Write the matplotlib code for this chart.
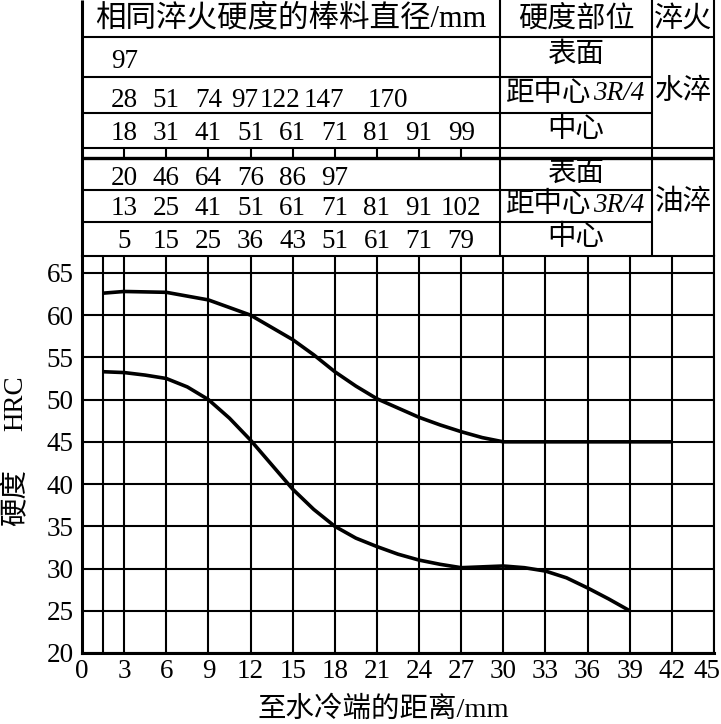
"""Jominy end-quench hardness band with equivalent bar-diameter table."""

import matplotlib

matplotlib.use("Agg")
import matplotlib.pyplot as plt
from matplotlib.transforms import ScaledTranslation

# ---- data -----------------------------------------------------------------
# hardness band: distance from quenched end (mm) vs HRC
UPPER_X = [1.5, 3, 6, 9, 12, 15, 16.5, 18, 19.5, 21, 22.5, 24, 25.5, 27, 28.5,
           30, 33, 36, 39, 42]
UPPER_HRC = [62.6, 62.8, 62.7, 61.8, 60.0, 57.1, 55.3, 53.3, 51.6, 50.1, 49.0,
             47.9, 47.0, 46.2, 45.5, 45.0, 45.0, 45.0, 45.0, 45.0]
LOWER_X = [1.5, 3, 4.5, 6, 7.5, 9, 10.5, 12, 13.5, 15, 16.5, 18, 19.5, 21, 22.5,
           24, 25.5, 27, 28.5, 30, 31.5, 33, 34.5, 36, 37.5, 39]
LOWER_HRC = [53.3, 53.2, 52.9, 52.5, 51.5, 50.0, 47.8, 45.2, 42.3, 39.4, 37.0,
             35.0, 33.6, 32.6, 31.7, 31.0, 30.5, 30.1, 30.2, 30.3, 30.1, 29.7,
             28.9, 27.7, 26.4, 25.0]

X_TICKS = list(range(0, 46, 3))
Y_TICKS = list(range(20, 66, 5))

# bar diameters (mm) giving the same hardness, and the end distance (mm) each sits at
WATER_SURFACE = [97]
WATER_SURFACE_AT = [3]
WATER_3R4 = [28, 51, 74, 97, 122, 147, 170]
WATER_3R4_AT = [3, 6, 9, 11.6, 14.1, 17.2, 21.8]
WATER_CENTER = [18, 31, 41, 51, 61, 71, 81, 91, 99]
WATER_CENTER_AT = [3, 6, 9, 12, 15, 18, 21, 24, 27]
OIL_SURFACE = [20, 46, 64, 76, 86, 97]
OIL_SURFACE_AT = [3, 6, 9, 12, 15, 18]
OIL_3R4 = [13, 25, 41, 51, 61, 71, 81, 91, 102]
OIL_3R4_AT = [3, 6, 9, 12, 15, 18, 21, 24, 27]
OIL_CENTER = [5, 15, 25, 36, 43, 51, 61, 71, 79]
OIL_CENTER_AT = [3, 6, 9, 12, 15, 18, 21, 24, 27]

HEADER_DIAM = "相同淬火硬度的棒料直径/mm"
HEADER_POS = "硬度部位"
HEADER_QUENCH = "淬火"
POS_SURFACE = "表面"
POS_3R4 = "距中心"
POS_CENTER = "中心"
WATER = "水淬"
OIL = "油淬"
X_LABEL = "至水冷端的距离/mm"

# ---- layout (pixels of the 721x724 canvas) --------------------------------
W, H = 721, 724
PLOT_L, PLOT_R, PLOT_T, PLOT_B = 82, 714, 256, 653
COL_POS, COL_QUENCH = 29.75, 40.6  # column edges in mm units of the shared x
LW = 1.5
NUM_SIZE = 19.5
CJK_SIZE = 20.5


def apply_style():
    plt.rcParams.update({
        "font.family": ["Liberation Serif", "Noto Sans CJK SC", "DejaVu Sans"],
        "font.size": NUM_SIZE,
        "axes.linewidth": LW,
        "axes.unicode_minus": False,
    })


def draw_chart(fig, ax):
    ax.plot(UPPER_X, UPPER_HRC, color="black", lw=2.6, solid_capstyle="butt", zorder=3)
    ax.plot(LOWER_X, LOWER_HRC, color="black", lw=2.6, solid_capstyle="butt", zorder=3)
    ax.set_xlim(0, 45)
    ax.set_ylim(20, 67)
    ax.set_xticks(X_TICKS)
    ax.set_xticks([1.5], minor=True)
    ax.set_yticks(Y_TICKS)
    ax.grid(True, which="both", color="black", lw=LW, zorder=1)
    ax.set_axisbelow(True)
    ax.tick_params(which="both", length=0, labelsize=NUM_SIZE)
    ax.tick_params(axis="x", pad=4)
    ax.tick_params(axis="y", pad=6)
    for spine in ax.spines.values():
        spine.set_color("black")
        spine.set_linewidth(LW)
    ax.spines["left"].set_linewidth(2.2)
    ax.spines["bottom"].set_linewidth(2.2)
    # last x label sits inside the canvas edge, as in the print
    last = ax.get_xticklabels()[-1]
    last.set_horizontalalignment("right")
    last.set_transform(last.get_transform()
                       + ScaledTranslation(6 / 100, 0, fig.dpi_scale_trans))


def put_row(ax, values, where, baseline):
    for v, x in zip(values, where):
        ax.text(x, baseline, str(v), ha="center", va="baseline", fontsize=NUM_SIZE)


def put_cjk(ax, x, y, s, size=CJK_SIZE):
    ax.text(x, y, s, ha="center", va="center", fontsize=size)


def put_3r4(ax, y):
    split = 36.3
    ax.text(split, y, POS_3R4, ha="right", va="center", fontsize=CJK_SIZE)
    ax.text(split + 0.1, y, "3R/4", ha="left", va="center", fontsize=NUM_SIZE,
            style="italic")


def draw_table(tb):
    tb.set_xlim(0, 45)
    tb.set_ylim(PLOT_T, 0)
    tb.axis("off")
    kw = dict(color="black", lw=LW, clip_on=False)
    # horizontal rules
    tb.hlines([37, 148], 0, 45, **kw)
    tb.hlines([77, 113, 190, 222], 0, COL_QUENCH, **kw)
    tb.hlines([158], 0, 45, color="black", lw=2.4, clip_on=False)
    # vertical rules
    tb.vlines([0], 0, PLOT_T, color="black", lw=2.2, clip_on=False)
    tb.vlines([COL_POS, COL_QUENCH, 45], 0, PLOT_T, **kw)
    tb.vlines(WATER_CENTER_AT, 148, 158, **kw)

    pos_mid = (COL_POS + COL_QUENCH) / 2
    q_mid = (COL_QUENCH + 45) / 2

    put_cjk(tb, COL_POS / 2, 19, HEADER_DIAM, size=22)
    put_cjk(tb, pos_mid, 19, HEADER_POS, size=21)
    put_cjk(tb, q_mid, 19, HEADER_QUENCH, size=21)

    put_row(tb, WATER_SURFACE, WATER_SURFACE_AT, 68)
    put_row(tb, WATER_3R4, WATER_3R4_AT, 107)
    put_row(tb, WATER_CENTER, WATER_CENTER_AT, 140)
    put_cjk(tb, pos_mid, 55, POS_SURFACE)
    put_3r4(tb, 94)
    put_cjk(tb, pos_mid, 130, POS_CENTER)
    put_cjk(tb, q_mid, 92, WATER)

    put_row(tb, OIL_SURFACE, OIL_SURFACE_AT, 185)
    put_row(tb, OIL_3R4, OIL_3R4_AT, 215)
    put_row(tb, OIL_CENTER, OIL_CENTER_AT, 248)
    put_cjk(tb, pos_mid, 174, POS_SURFACE)
    put_3r4(tb, 205)
    put_cjk(tb, pos_mid, 238, POS_CENTER)
    put_cjk(tb, q_mid, 203, OIL)


def main():
    apply_style()
    fig = plt.figure(figsize=(W / 100, H / 100), dpi=100)
    ax = fig.add_axes([PLOT_L / W, 1 - PLOT_B / H,
                       (PLOT_R - PLOT_L) / W, (PLOT_B - PLOT_T) / H])
    tb = fig.add_axes([PLOT_L / W, 1 - PLOT_T / H,
                       (PLOT_R - PLOT_L) / W, PLOT_T / H])
    draw_chart(fig, ax)
    draw_table(tb)

    fig.text(383 / W, 1 - 710 / H, X_LABEL, ha="center", va="center",
             fontsize=CJK_SIZE)
    fig.text(16 / W, 1 - 403 / H, "HRC", rotation=90, ha="center", va="center",
             fontsize=NUM_SIZE)
    fig.text(16 / W, 1 - 497 / H, "硬度", rotation=90, ha="center", va="center",
             fontsize=CJK_SIZE)

    fig.savefig("out.png", dpi=100, facecolor="white")
    plt.close(fig)


if __name__ == "__main__":
    main()
